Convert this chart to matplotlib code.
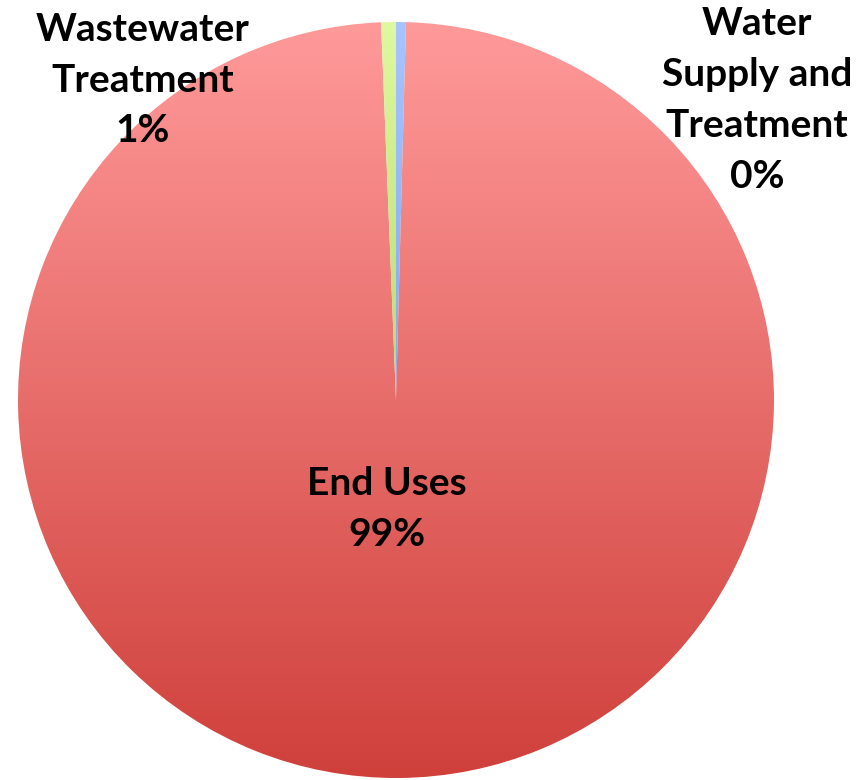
import matplotlib.pyplot as plt
import numpy as np
from matplotlib.colors import LinearSegmentedColormap

# energy use shares, clockwise from 12 o'clock
labels = ["Water\nSupply and\nTreatment", "End Uses", "Wastewater\nTreatment"]
values = [0.42, 98.95, 0.63]
# gradient colours per slice (top, bottom)
grads = [("#a6c4ff", "#5f8fe0"), ("#ff9a9a", "#cf403b"), ("#e0f8a0", "#8cc040")]

W, H = 866, 780
fig = plt.figure(figsize=(W / 100, H / 100), dpi=100)
cx, cy, r = 396, 400, 378
ax = fig.add_axes([(cx - r) / W, (H - cy - r) / H, 2 * r / W, 2 * r / H])

wedges, _ = ax.pie(values, startangle=90, counterclock=False, radius=1,
                   colors=["none"] * 3, wedgeprops=dict(linewidth=0))

grad = np.linspace(0, 1, 256).reshape(-1, 1)
for w, (c1, c2) in zip(wedges, grads):
    cmap = LinearSegmentedColormap.from_list("g", [c1, c2])
    im = ax.imshow(grad, cmap=cmap, extent=(-1, 1, -1, 1), origin="upper",
                   aspect="auto", zorder=1)
    im.set_clip_path(w)

ax.set_xlim(-1, 1)
ax.set_ylim(-1, 1)
ax.set_aspect("equal")
ax.axis("off")

font = dict(family=["Lato", "DejaVu Sans"], weight="bold", fontsize=28,
            color="black", ha="center", va="center", linespacing=1.55)


def put(x, y, s):
    fig.text(x / W, 1 - y / H, s, **font)


pcts = [f"{round(v)}%" for v in values]
put(757, 100, labels[0] + "\n" + pcts[0])
put(143, 80, labels[2] + "\n" + pcts[2])
put(387, 509, labels[1] + "\n" + pcts[1])

fig.savefig("out.png", dpi=100)
